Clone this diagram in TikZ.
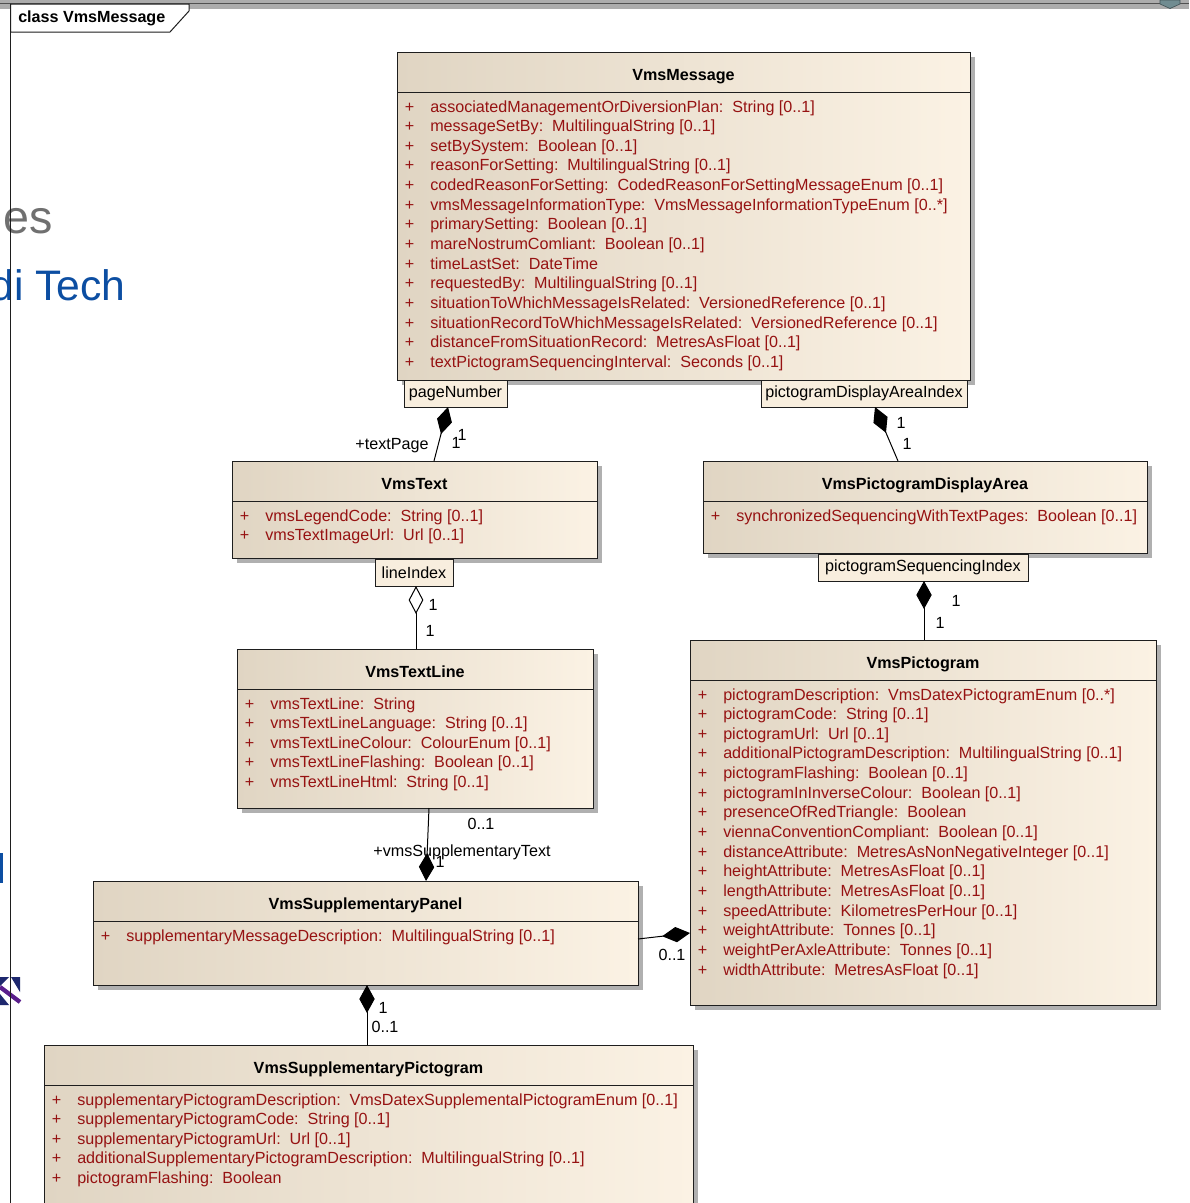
\documentclass[tikz,border=0pt]{standalone}
\usepackage{fontspec}
\setmainfont{Liberation Sans}
\usetikzlibrary{arrows.meta}

\definecolor{attrred}{RGB}{150,18,18}
\definecolor{boxleft}{RGB}{224,213,195}
\definecolor{boxright}{RGB}{251,242,228}
\definecolor{qualfill}{RGB}{248,238,222}
\definecolor{shadowc}{RGB}{176,176,176}
\definecolor{bandgray}{RGB}{172,172,172}
\definecolor{bandline}{RGB}{80,80,80}
\definecolor{slideblue}{RGB}{12,78,162}
\definecolor{slidegray}{RGB}{112,112,112}
\definecolor{framecol}{RGB}{30,30,30}
\definecolor{iconnavy}{RGB}{30,40,110}
\definecolor{iconpurple}{RGB}{90,30,140}
\definecolor{tealgray}{RGB}{112,140,145}

\newcommand\umlfont{\fontsize{12.1}{14}\selectfont}
\newcommand\cl{:\hspace{0.55em}}

\tikzset{
  classbox/.style={draw=framecol, line width=0.75pt, left color=boxleft, right color=boxright,
    inner sep=0pt, outer sep=0pt},
  sepline/.style={draw=framecol, line width=0.75pt},
  classtitle/.style={anchor=base, inner sep=0pt, font=\umlfont\bfseries, text=black},
  attr/.style={anchor=base west, inner sep=0pt, font=\umlfont, text=attrred},
  plus/.style={anchor=base, inner sep=0pt, font=\umlfont, text=attrred},
  qualbox/.style={draw=framecol, line width=0.75pt, fill=qualfill, inner sep=0pt, outer sep=0pt,
    font=\umlfont, text=black},
  role/.style={anchor=base, inner sep=0pt, font=\umlfont, text=black},
  assoc/.style={draw=black, line width=0.75pt},
  comp/.style={assoc, -{Diamond[length=21pt,width=11.5pt,fill=black]}},
  aggr/.style={assoc, -{Diamond[length=21pt,width=11pt,open,fill=white]}},
}

% class box: name, x1, y1, x2, y2, title, attribute list
\newcommand\umlclass[7]{%
  \fill[shadowc] (#2+5,#3+5) rectangle (#4+5,#5+5);
  \node[classbox, minimum width={(#4-#2)*0.75pt}, minimum height={(#5-#3)*0.75pt}]
    (#1) at ({(#2+#4)/2},{(#3+#5)/2}) {};
  \draw[sepline] (#2,#3+40) -- (#4,#3+40);
  \node[classtitle] (#1-title) at ({(#2+#4)/2},#3+28) {#6};
  \foreach \attrtxt [count=\k] in {#7} {
    \node[plus] (#1-p\k) at ({#2+12.5},{#3+60+19.65*(\k-1)}) {+};
    \node[attr] (#1-a\k) at ({#2+33},{#3+60+19.65*(\k-1)}) {\attrtxt};
  }%
}

\begin{document}
\begin{tikzpicture}[x=0.75pt,y=-0.75pt]
\useasboundingbox (0,0) rectangle (1189,1203);
\clip (0,0) rectangle (1189,1203);
\fill[white] (0,0) rectangle (1189,1203);

% window band along the top edge
\fill[bandgray] (0,0) rectangle (1189,9);
\draw[bandline, line width=1pt] (0,3.5) -- (1189,3.5);
\filldraw[fill=tealgray, draw=tealgray!60!black, line width=0.5pt]
  (1160,0) -- (1180,0) -- (1180,4) -- (1170,8.5) -- (1160,4) -- cycle;

% slide fragments at the left edge
\node[anchor=base west, inner sep=0pt, text=slidegray, font=\fontsize{35}{40}\selectfont] (slidees) at (3,233) {es};
\node[anchor=base east, inner sep=0pt, text=slideblue, font=\fontsize{32}{38}\selectfont] (slidetech) at (126,300) {di Tech};
\fill[slideblue] (0,853) rectangle (3,883);
\fill[white] (0,977) rectangle (20,1005);
\fill[iconnavy] (0,977) -- (9,977) -- (0,986) -- cycle;
\fill[iconnavy] (11,977) -- (20,977) -- (20,992) -- cycle;
\fill[iconnavy] (0,994) -- (9,1005) -- (0,1005) -- cycle;
\draw[iconpurple, line width=3.2pt] (0,987) -- (20,1002);

% diagram frame and its label
\draw[framecol, line width=0.75pt] (10.5,3.5) -- (10.5,1210);
\filldraw[fill=white, draw=framecol, line width=0.75pt]
  (10.5,4) -- (189,4) -- (189,11) -- (170,32) -- (10.5,32) -- cycle;
\node[anchor=base west, inner sep=0pt, font=\umlfont\bfseries] (framelabel) at (18,22) {class VmsMessage};

% classes
\umlclass{vmsmsg}{397}{52}{970}{380}{VmsMessage}{
  associatedManagementOrDiversionPlan\cl String [0..1],
  messageSetBy\cl MultilingualString [0..1],
  setBySystem\cl Boolean [0..1],
  reasonForSetting\cl MultilingualString [0..1],
  codedReasonForSetting\cl CodedReasonForSettingMessageEnum [0..1],
  vmsMessageInformationType\cl VmsMessageInformationTypeEnum [0..*],
  primarySetting\cl Boolean [0..1],
  mareNostrumComliant\cl Boolean [0..1],
  timeLastSet\cl DateTime,
  requestedBy\cl MultilingualString [0..1],
  situationToWhichMessageIsRelated\cl VersionedReference [0..1],
  situationRecordToWhichMessageIsRelated\cl VersionedReference [0..1],
  distanceFromSituationRecord\cl MetresAsFloat [0..1],
  textPictogramSequencingInterval\cl Seconds [0..1]}

\umlclass{vmstext}{232}{461}{597}{558}{VmsText}{
  vmsLegendCode\cl String [0..1],
  vmsTextImageUrl\cl Url [0..1]}

\umlclass{vmspda}{703}{461}{1147}{553}{VmsPictogramDisplayArea}{
  synchronizedSequencingWithTextPages\cl Boolean [0..1]}

\umlclass{vmstextline}{237}{649}{593}{808}{VmsTextLine}{
  vmsTextLine\cl String,
  vmsTextLineLanguage\cl String [0..1],
  vmsTextLineColour\cl ColourEnum [0..1],
  vmsTextLineFlashing\cl Boolean [0..1],
  vmsTextLineHtml\cl String [0..1]}

\umlclass{vmspict}{690}{640}{1156}{1005}{VmsPictogram}{
  pictogramDescription\cl VmsDatexPictogramEnum [0..*],
  pictogramCode\cl String [0..1],
  pictogramUrl\cl Url [0..1],
  additionalPictogramDescription\cl MultilingualString [0..1],
  pictogramFlashing\cl Boolean [0..1],
  pictogramInInverseColour\cl Boolean [0..1],
  presenceOfRedTriangle\cl Boolean,
  viennaConventionCompliant\cl Boolean [0..1],
  distanceAttribute\cl MetresAsNonNegativeInteger [0..1],
  heightAttribute\cl MetresAsFloat [0..1],
  lengthAttribute\cl MetresAsFloat [0..1],
  speedAttribute\cl KilometresPerHour [0..1],
  weightAttribute\cl Tonnes [0..1],
  weightPerAxleAttribute\cl Tonnes [0..1],
  widthAttribute\cl MetresAsFloat [0..1]}

\umlclass{vmssuppanel}{93}{881}{638}{985}{VmsSupplementaryPanel}{
  supplementaryMessageDescription\cl MultilingualString [0..1]}

\umlclass{vmssuppict}{44}{1045}{693}{1215}{VmsSupplementaryPictogram}{
  supplementaryPictogramDescription\cl VmsDatexSupplementalPictogramEnum [0..1],
  supplementaryPictogramCode\cl String [0..1],
  supplementaryPictogramUrl\cl Url [0..1],
  additionalSupplementaryPictogramDescription\cl MultilingualString [0..1],
  pictogramFlashing\cl Boolean}

% qualifier boxes
\node[qualbox, minimum width={103*0.75pt}, minimum height={27*0.75pt}] (pagenum) at (455.5,393.5) {pageNumber};
\node[qualbox, minimum width={206*0.75pt}, minimum height={27*0.75pt}] (pdaidx) at (864,393.5) {pictogramDisplayAreaIndex};
\node[qualbox, minimum width={78*0.75pt}, minimum height={27*0.75pt}] (lineidx) at (414,572.5) {lineIndex};
\node[qualbox, minimum width={210*0.75pt}, minimum height={27*0.75pt}] (pictseq) at (923,567.5) {pictogramSequencingIndex};

% associations
\draw[comp] (vmstext.north -| 434,0) -- (pagenum.south -| 448,0);
\draw[comp] (vmspda.north -| 898,0) -- (pdaidx.south -| 875,0);
\draw[aggr] (vmstextline.north -| 416,0) -- (lineidx.south -| 416,0);
\draw[comp] (vmspict.north -| 924,0) -- (pictseq.south -| 924,0);
\draw[comp] (vmstextline.south -| 429,0) -- (vmssuppanel.north -| 426,0);
\draw[comp] (vmssuppanel.east |- 0,939) -- (vmspict.west |- 0,933);
\draw[comp] (vmssuppict.north -| 367,0) -- (vmssuppanel.south -| 367,0);

% role names and multiplicities
\node[role] (r-textpage) at (392,449.5) {+textPage};
\node[role] (m-tp1) at (456,448.5) {1};
\node[role] (m-tp2) at (462,440) {1};
\node[role] (m-pda1) at (901,428.5) {1};
\node[role] (m-pda2) at (907,449.5) {1};
\node[role] (m-li1) at (433,610.5) {1};
\node[role] (m-li2) at (430,636.5) {1};
\node[role] (m-ps1) at (956,606.5) {1};
\node[role] (m-ps2) at (940,628.5) {1};
\node[role] (m-st1) at (481,829.5) {0..1};
\node[role] (r-supptext) at (462,856.5) {+vmsSupplementaryText};
\node[role] (m-st2) at (440,867.5) {1};
\node[role] (m-pp) at (672,960) {0..1};
\node[role] (m-sp1) at (383,1013.5) {1};
\node[role] (m-sp2) at (385,1032.5) {0..1};
\end{tikzpicture}
\end{document}
